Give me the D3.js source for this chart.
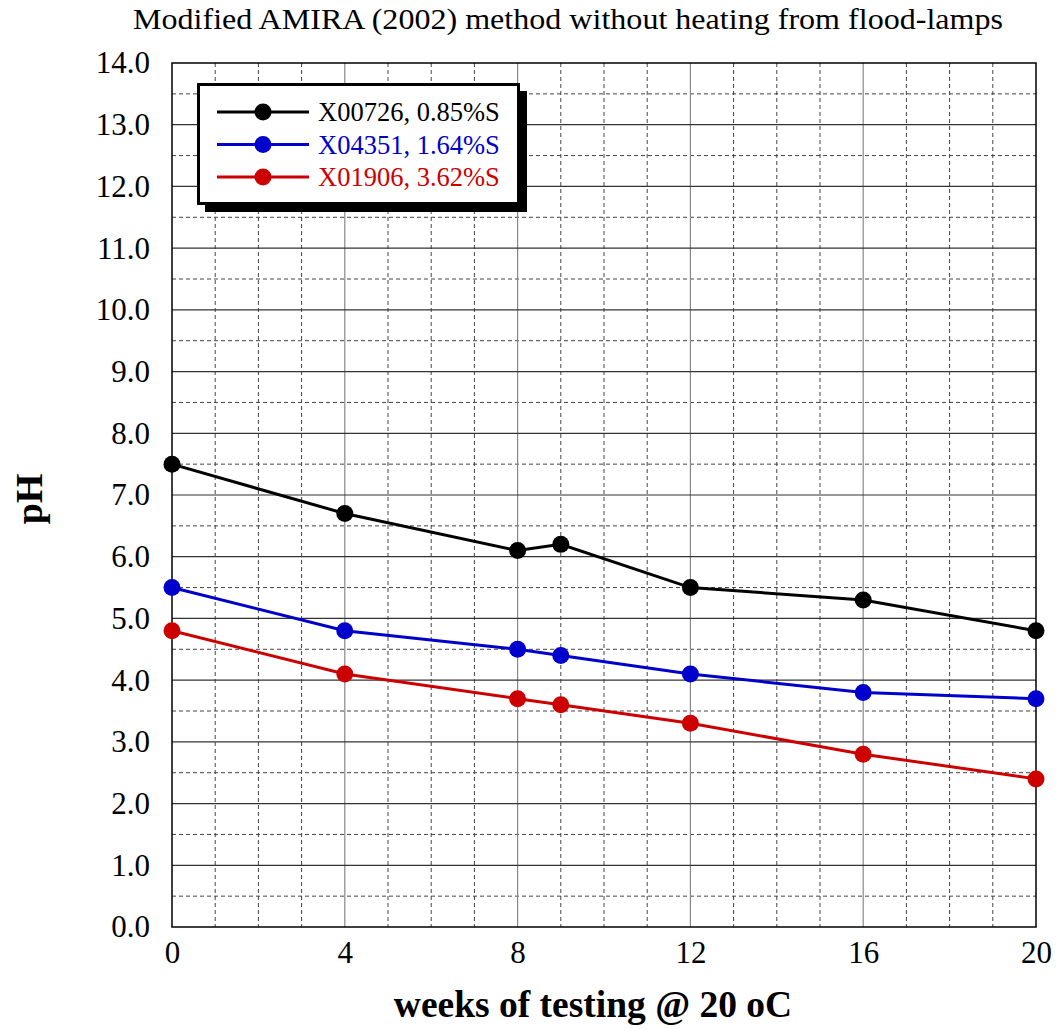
<!DOCTYPE html>
<html>
<head>
<meta charset="utf-8">
<script src="https://cdn.jsdelivr.net/npm/d3@7"></script>
<style>
  body { margin: 0; background: #fff; }
  text { font-family: "Liberation Serif", "Times New Roman", serif; }
</style>
</head>
<body>
<div id="chart"></div>
<script>
var weeks = [0, 4, 8, 9, 12, 16, 20];
var seriesNames = ["X00726, 0.85%S", "X04351, 1.64%S", "X01906, 3.62%S"];
var phX00726 = [7.5, 6.7, 6.1, 6.2, 5.5, 5.3, 4.8];
var phX04351 = [5.5, 4.8, 4.5, 4.4, 4.1, 3.8, 3.7];
var phX01906 = [4.8, 4.1, 3.7, 3.6, 3.3, 2.8, 2.4];
var xTicks = [0, 4, 8, 12, 16, 20];
var yTicks = d3.range(0, 14.01, 1);

var colors = ["#000000", "#0000cc", "#cc0000"];
var data = [phX00726, phX04351, phX01906].map(function(vals, i) {
  return { name: seriesNames[i], color: colors[i],
    values: vals.map(function(v, j) { return { week: weeks[j], ph: v }; }) };
});

var width = 1057, height = 1029;
var plotLeft = 172, plotRight = 1036, plotTop = 63, plotBottom = 927;

var svg = d3.select("#chart").append("svg")
  .attr("width", width).attr("height", height);

var x = d3.scaleLinear().domain([0, 20]).range([plotLeft, plotRight]);
var y = d3.scaleLinear().domain([0, 14]).range([plotBottom, plotTop]);

/* grid */
var grid = svg.append("g");
grid.selectAll(".vminor").data(d3.range(1, 20).filter(d => d % 4 !== 0)).enter()
  .append("line")
  .attr("x1", d => x(d)).attr("x2", d => x(d))
  .attr("y1", plotTop).attr("y2", plotBottom)
  .attr("stroke", "#444").attr("stroke-width", 1).attr("stroke-dasharray", "4,3");
grid.selectAll(".hminor").data(d3.range(0.5, 14, 1)).enter()
  .append("line")
  .attr("x1", plotLeft).attr("x2", plotRight)
  .attr("y1", d => y(d)).attr("y2", d => y(d))
  .attr("stroke", "#444").attr("stroke-width", 1).attr("stroke-dasharray", "4,3");
grid.selectAll(".vmajor").data([4, 8, 12, 16]).enter()
  .append("line")
  .attr("x1", d => x(d)).attr("x2", d => x(d))
  .attr("y1", plotTop).attr("y2", plotBottom)
  .attr("stroke", "#888").attr("stroke-width", 1.2);
grid.selectAll(".hmajor").data(d3.range(1, 14)).enter()
  .append("line")
  .attr("x1", plotLeft).attr("x2", plotRight)
  .attr("y1", d => y(d)).attr("y2", d => y(d))
  .attr("stroke", "#333").attr("stroke-width", 1.2);

svg.append("rect")
  .attr("x", plotLeft).attr("y", plotTop)
  .attr("width", plotRight - plotLeft).attr("height", plotBottom - plotTop)
  .attr("fill", "none").attr("stroke", "#000").attr("stroke-width", 1.5);

/* axes */
var xAxis = d3.axisBottom(x).tickValues(xTicks).tickSize(0).tickPadding(14);
var yAxis = d3.axisLeft(y).tickValues(yTicks).tickSize(0).tickPadding(22)
  .tickFormat(d3.format(".1f"));

svg.append("g").attr("transform", `translate(0,${plotBottom})`).call(xAxis)
  .call(g => g.select(".domain").remove())
  .selectAll("text").attr("font-size", 31).attr("fill", "#000")
  .style("font-family", "Liberation Serif");
svg.append("g").attr("transform", `translate(${plotLeft},0)`).call(yAxis)
  .call(g => g.select(".domain").remove())
  .selectAll("text").attr("font-size", 31).attr("fill", "#000")
  .style("font-family", "Liberation Serif");

/* lines */
var line = d3.line().x(d => x(d.week)).y(d => y(d.ph));
var series = svg.append("g").selectAll("g").data(data).enter().append("g");
series.append("path")
  .attr("d", d => line(d.values))
  .attr("fill", "none").attr("stroke", d => d.color).attr("stroke-width", 3);
series.selectAll("circle").data(d => d.values.map(v => ({ v: v, c: d.color }))).enter()
  .append("circle")
  .attr("cx", d => x(d.v.week)).attr("cy", d => y(d.v.ph))
  .attr("r", 8.5).attr("fill", d => d.c);

/* legend */
var lg = svg.append("g");
lg.append("rect").attr("x", 205).attr("y", 91).attr("width", 322).attr("height", 121).attr("fill", "#000");
lg.append("rect").attr("x", 198.5).attr("y", 84.5).attr("width", 320).attr("height", 119)
  .attr("fill", "#fff").attr("stroke", "#000").attr("stroke-width", 3);
var rows = lg.selectAll(".row").data(data).enter().append("g")
  .attr("transform", (d, i) => `translate(0,${112 + i * 32.5})`);
rows.append("line").attr("x1", 217).attr("x2", 309)
  .attr("stroke", d => d.color).attr("stroke-width", 3);
rows.append("circle").attr("cx", 263).attr("r", 8.5).attr("fill", d => d.color);
rows.append("text").attr("x", 318).attr("dy", "0.35em")
  .attr("font-size", 26.5).attr("fill", d => d.color).text(d => d.name);

/* titles */
svg.append("text").attr("x", 568).attr("y", 29).attr("text-anchor", "middle")
  .attr("font-size", 29).attr("textLength", 870).attr("lengthAdjust", "spacingAndGlyphs")
  .text("Modified AMIRA (2002) method without heating from flood-lamps");
svg.append("text").attr("x", 593).attr("y", 1017).attr("text-anchor", "middle")
  .attr("font-size", 37.5).attr("font-weight", "bold").text("weeks of testing @ 20 oC");
svg.append("text").attr("transform", "translate(42,499) rotate(-90)").attr("text-anchor", "middle")
  .attr("font-size", 38).attr("font-weight", "bold").text("pH");
</script>
</body>
</html>
